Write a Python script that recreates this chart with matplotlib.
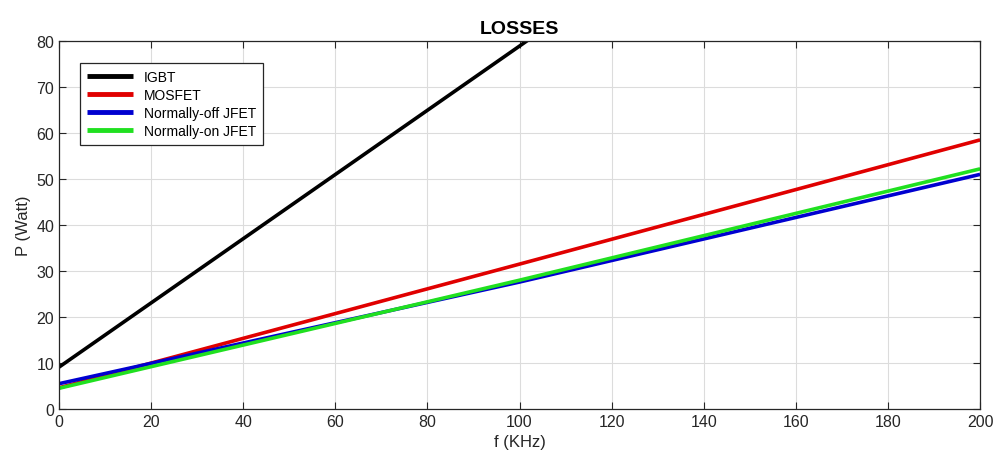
import numpy as np
import matplotlib.pyplot as plt

plt.rcParams['font.family'] = ['Liberation Sans', 'DejaVu Sans']

# values at f = 0, 100, 200 KHz (P in Watt)
f = [0, 100, 200]
igbt = [9.1, 78.9, 149.0]
mosfet = [4.6, 31.5, 58.5]
jfet_off = [5.5, 27.6, 51.0]
jfet_on = [4.5, 28.0, 52.2]

names = ['IGBT', 'MOSFET', 'Normally-off JFET', 'Normally-on JFET']
colors = ['#000000', '#e00000', '#0000d0', '#20e020']

fig = plt.figure(figsize=(9.95, 4.64), dpi=100)
ax = fig.add_axes([0.0593, 0.1164, 0.9257, 0.7931])

for vals, name, c in zip([igbt, mosfet, jfet_off, jfet_on], names, colors):
    ax.plot(f, vals, color=c, lw=2.6, label=name, solid_capstyle='butt')

ax.set_xlim(0, 200)
ax.set_ylim(0, 80)
ax.set_xticks(np.arange(0, 201, 20))
ax.set_yticks(np.arange(0, 81, 10))
ax.grid(True, color='#dcdcdc', lw=0.8)
ax.set_axisbelow(True)
ax.tick_params(direction='in', top=True, right=True, length=5,
               labelsize=11.5, colors='#262626', width=0.8)
for s in ax.spines.values():
    s.set_color('#262626')
    s.set_linewidth(0.9)

ax.set_xlabel('f (KHz)', fontsize=12, color='#262626')
ax.set_ylabel('P (Watt)', fontsize=12, color='#262626')
ax.set_title('LOSSES', fontsize=14, fontweight='bold', pad=6)

leg = ax.legend(loc='upper left', bbox_to_anchor=(0.015, 0.96), fontsize=10,
                fancybox=False, framealpha=1, edgecolor='#262626',
                handlelength=3.3, borderpad=0.5, labelspacing=0.3)
for h in leg.get_lines():
    h.set_linewidth(3.5)
leg.get_frame().set_linewidth(0.9)

fig.savefig('out.png', dpi=100)
